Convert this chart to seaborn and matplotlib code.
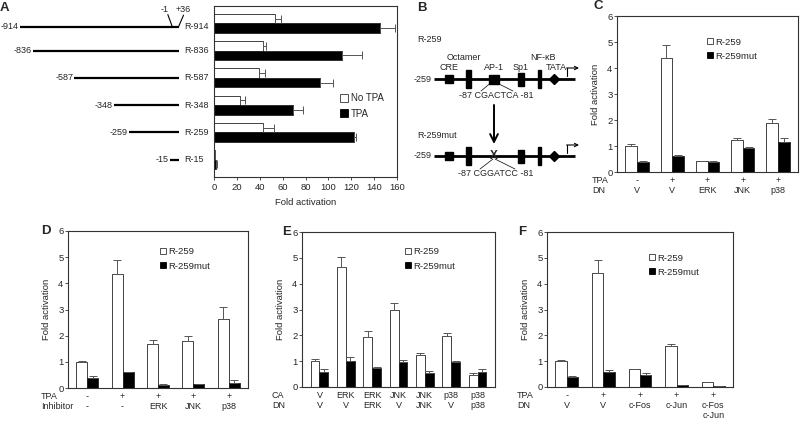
import matplotlib
matplotlib.use('Agg')
import matplotlib.pyplot as plt
import seaborn as sns
import numpy as np
import pandas as pd
from matplotlib.lines import Line2D
from matplotlib.patches import Rectangle

sns.set_style('white')
plt.rcParams['font.family'] = ['Liberation Sans', 'DejaVu Sans']
plt.rcParams['font.size'] = 6.5

FS = 6.5      # words
FN = 6.8      # numeric tick labels

# ---------------- data ----------------
series = ['R-259', 'R-259mut']

# Panel A
a_constructs = ['R-914', 'R-836', 'R-587', 'R-348', 'R-259', 'R-15']
a_starts = [-914, -836, -587, -348, -259, -15]
a_end = 36
a_series = ['No TPA', 'TPA']
a_notpa = [53, 43, 39.5, 23, 43, 0.5]
a_notpa_err = [5.5, 2.5, 5, 4.5, 9.5, 0.3]
a_tpa = [145, 112, 93, 69, 122, 2]
a_tpa_err = [13, 17, 11, 9, 2.5, 0.8]

# Panel C
c_row1 = ['-', '+', '+', '+', '+']
c_row2 = ['V', 'V', 'ERK', 'JNK', 'p38']
c_wt = [1.0, 4.37, 0.42, 1.25, 1.9]
c_wt_err = [0.06, 0.5, 0.02, 0.04, 0.15]
c_mut = [0.38, 0.62, 0.40, 0.94, 1.15]
c_mut_err = [0.06, 0.03, 0.03, 0.03, 0.14]

# Panel D
d_row1 = ['-', '+', '+', '+', '+']
d_row2 = ['-', '-', 'ERK', 'JNK', 'p38']
d_wt = [1.0, 4.35, 1.7, 1.8, 2.65]
d_wt_err = [0.03, 0.53, 0.15, 0.17, 0.43]
d_mut = [0.4, 0.6, 0.12, 0.14, 0.2]
d_mut_err = [0.04, 0.02, 0.05, 0.03, 0.09]

# Panel E
e_row1 = ['V', 'ERK', 'ERK', 'JNK', 'JNK', 'p38', 'p38']
e_row2 = ['V', 'V', 'ERK', 'V', 'JNK', 'V', 'p38']
e_wt = [1.0, 4.65, 1.93, 3.0, 1.25, 1.97, 0.48]
e_wt_err = [0.07, 0.38, 0.23, 0.27, 0.08, 0.12, 0.05]
e_mut = [0.6, 1.02, 0.75, 0.95, 0.56, 0.97, 0.6]
e_mut_err = [0.08, 0.14, 0.02, 0.1, 0.05, 0.02, 0.08]

# Panel F
f_row1 = ['-', '+', '+', '+', '+']
f_row2 = ['V', 'V', 'c-Fos', 'c-Jun', 'c-Fos\nc-Jun']
f_wt = [1.0, 4.4, 0.68, 1.57, 0.18]
f_wt_err = [0.06, 0.5, 0.03, 0.1, 0.03]
f_mut = [0.38, 0.6, 0.47, 0.07, 0.02]
f_mut_err = [0.06, 0.04, 0.06, 0.02, 0.0]

W, H = 800, 428
fig = plt.figure(figsize=(W / 100, H / 100), dpi=100)


def px_axes(l, t, r, b):
    return fig.add_axes([l / W, 1 - b / H, (r - l) / W, (b - t) / H])


SPINE = '#333333'
ECOL = '#555555'


def style_box(ax):
    for s in ax.spines.values():
        s.set_visible(True)
        s.set_color(SPINE)
        s.set_linewidth(0.8)


def grouped(ax, row1, row2, wt, wt_err, mut, mut_err, width, legend_anchor):
    labels = [f'{a}\n{b}' for a, b in zip(row1, row2)]
    n = len(labels)
    df = pd.DataFrame({'group': labels * 2,
                       'construct': [series[0]] * n + [series[1]] * n,
                       'value': wt + mut})
    sns.barplot(data=df, x='group', y='value', hue='construct', order=labels,
                hue_order=series, palette=['white', 'black'], saturation=1,
                edgecolor='#222222', linewidth=0.6, width=width, errorbar=None,
                legend=False, ax=ax)
    bars = [c for c in ax.containers]
    for cont, err in zip(bars, [wt_err, mut_err]):
        xs = [p.get_x() + p.get_width() / 2 for p in cont]
        hs = [p.get_height() for p in cont]
        ax.errorbar(xs, hs, yerr=[np.zeros(len(err)), err], fmt='none',
                    ecolor=ECOL, elinewidth=0.7, capsize=2.8, capthick=0.7)
    ax.set_ylim(0, 6)
    ax.set_yticks(range(7))
    ax.set_xlabel('')
    ax.set_ylabel('Fold activation', fontsize=FS + 0.3, labelpad=5)
    ax.tick_params(axis='y', left=True, length=2.2, width=0.6, color=SPINE,
                   labelsize=FN, pad=1)
    ax.tick_params(axis='x', length=0, labelsize=FS, pad=3)
    for t in ax.get_xticklabels():
        t.set_linespacing(1.15)
    style_box(ax)
    handles = [Line2D([], [], marker='s', ls='', mfc='white', mec='#333333',
                      ms=5, mew=0.6),
               Line2D([], [], marker='s', ls='', mfc='black', mec='black',
                      ms=5, mew=0.6)]
    ax.legend(handles, series, loc='upper left', bbox_to_anchor=legend_anchor,
              frameon=False, handlelength=0.6, handletextpad=0.3,
              labelspacing=0.55, borderpad=0, borderaxespad=0, fontsize=FS + 0.3)


# ---------------- Panel A bars ----------------
axA = px_axes(214, 6, 397, 177)
dfA = pd.DataFrame({'construct': a_constructs * 2,
                    'treat': [a_series[0]] * 6 + [a_series[1]] * 6,
                    'value': a_notpa + a_tpa})
sns.barplot(data=dfA, y='construct', x='value', hue='treat', order=a_constructs,
            hue_order=a_series, orient='h', palette=['white', 'black'],
            saturation=1, edgecolor='#222222', linewidth=0.6, width=0.7,
            errorbar=None, legend=False, ax=axA)
barsA = [c for c in axA.containers]
for cont, err in zip(barsA, [a_notpa_err, a_tpa_err]):
    ys = [p.get_y() + p.get_height() / 2 for p in cont]
    ws = [p.get_width() for p in cont]
    axA.errorbar(ws, ys, xerr=[np.zeros(len(err)), err], fmt='none',
                 ecolor=ECOL, elinewidth=0.7, capsize=2.8, capthick=0.7)
axA.set_xlim(0, 160)
axA.set_xticks(range(0, 161, 20))
axA.set_yticks([])
axA.set_ylabel('')
axA.set_xlabel('Fold activation', fontsize=FS + 0.3, labelpad=4)
axA.tick_params(axis='x', bottom=True, length=2.5, width=0.6, color=SPINE,
                labelsize=FN, pad=2)
style_box(axA)
hA = [Line2D([], [], marker='s', ls='', mfc='white', mec='#333333', ms=6, mew=0.6),
      Line2D([], [], marker='s', ls='', mfc='black', mec='black', ms=6, mew=0.6)]
axA.legend(hA, a_series, loc='upper left', bbox_to_anchor=(0.69, 0.49),
           frameon=False, handlelength=0.7, handletextpad=0.4,
           labelspacing=0.55, borderpad=0, borderaxespad=0, fontsize=FS + 0.5)

# ---------------- Panel A construct diagram ----------------
dax = px_axes(0, 6, 214, 177)
dax.axis('off')
dax.patch.set_alpha(0)
dax.set_xlim(-1033, 248.5)
dax.set_ylim(axA.get_ylim())
for i, (name, st) in enumerate(zip(a_constructs, a_starts)):
    y = i + (0.13 if i == 0 else 0)
    dax.plot([st, a_end], [y, y], color='black', lw=1.6, solid_capstyle='butt')
    dax.text(st - 8, y, str(st), ha='right', va='center', fontsize=FS)
    dax.text(69, y, name, ha='left', va='center', fontsize=FS)
dax.plot([-1, -28], [0.13, -0.32], color='black', lw=0.8, clip_on=False)
dax.plot([a_end, 66], [0.13, -0.3], color='black', lw=0.8, clip_on=False)
dax.text(-50, -0.52, '-1', ha='center', va='center', fontsize=FS, clip_on=False)
dax.text(62, -0.52, '+36', ha='center', va='center', fontsize=FS, clip_on=False)

# ---------------- Panels C-F ----------------
axC = px_axes(617, 16, 798, 172)
grouped(axC, c_row1, c_row2, c_wt, c_wt_err, c_mut, c_mut_err, 0.66, (0.497, 0.862))
axD = px_axes(68, 231, 248, 388)
grouped(axD, d_row1, d_row2, d_wt, d_wt_err, d_mut, d_mut_err, 0.62, (0.511, 0.895))
axE = px_axes(302, 232, 495, 387)
grouped(axE, e_row1, e_row2, e_wt, e_wt_err, e_mut, e_mut_err, 0.66, (0.534, 0.9))
axF = px_axes(547, 232, 733, 387)
grouped(axF, f_row1, f_row2, f_wt, f_wt_err, f_mut, f_mut_err, 0.62, (0.548, 0.861))

# ---------------- overlay: letters, row labels, panel B ----------------
ov = fig.add_axes([0, 0, 1, 1])
ov.set_xlim(0, W)
ov.set_ylim(H, 0)
ov.axis('off')
ov.patch.set_alpha(0)
ov.set_zorder(-1)

for letter, x, y in [('A', 0, 8), ('B', 417, 8), ('C', 593, 6),
                     ('D', 41, 231), ('E', 282, 232), ('F', 518, 232)]:
    ov.text(x, y, letter, ha='left', va='center', fontsize=9.5, fontweight='bold')

for text, x, y in [('TPA\nDN', 592, 176), ('TPA\nInhibitor', 41, 392),
                   ('CA\nDN', 272, 391), ('TPA\nDN', 517, 391)]:
    ov.text(x, y, text, ha='left', va='top', fontsize=FS, linespacing=1.15)

# Panel B diagram
ov.text(417, 39, 'R-259', ha='left', va='center', fontsize=FS)
ov.text(417, 136, 'R-259mut', ha='left', va='center', fontsize=FS)


def promoter(y, mutant):
    ov.plot([434, 575], [y, y], color='black', lw=2.0, solid_capstyle='butt')
    ov.text(432, y, '-259', ha='right', va='center', fontsize=FS)
    ov.add_patch(Rectangle((449 - 4, y - 4), 8, 8, color='black'))
    ov.add_patch(Rectangle((468 - 2.5, y - 9), 5, 18, color='black'))
    if mutant:
        ov.text(494, y, 'X', ha='center', va='center', fontsize=8.5,
                fontweight='bold')
    else:
        ov.add_patch(Rectangle((494 - 5, y - 4.5), 10, 9, color='black'))
    ov.add_patch(Rectangle((521 - 3, y - 6.5), 6, 13, color='black'))
    ov.add_patch(Rectangle((539 - 1.5, y - 9), 3, 18, color='black'))
    ov.plot([554], [y], marker='D', ms=5.5, color='black')
    ov.plot([567, 567], [y - 3, y - 11], color='black', lw=0.8)
    ov.annotate('', xy=(579, y - 11), xytext=(566.6, y - 11),
                arrowprops=dict(arrowstyle='->', lw=0.8, color='black',
                                mutation_scale=6, shrinkA=0, shrinkB=0))


promoter(79, False)
promoter(156, True)
for txt, x, y in [('Octamer', 464, 57), ('NF-\u03baB', 543, 57), ('CRE', 449, 67),
                  ('AP-1', 494, 67), ('Sp1', 521, 67), ('TATA', 556, 67)]:
    ov.text(x, y, txt, ha='center', va='center', fontsize=FS)
ov.text(496, 95, '-87 CGACTCA -81', ha='center', va='center', fontsize=FS)
ov.plot([490, 481], [83.5, 91], color='black', lw=0.5)
ov.plot([498, 513], [83.5, 91], color='black', lw=0.5)
ov.text(496, 173, '-87 CGGATCC -81', ha='center', va='center', fontsize=FS)
ov.plot([493, 480], [159, 169], color='black', lw=0.5)
ov.plot([495, 515], [159, 169], color='black', lw=0.5)
ov.annotate('', xy=(494, 144), xytext=(494, 105),
            arrowprops=dict(arrowstyle='->', lw=1.4, color='black',
                            mutation_scale=14, shrinkA=0, shrinkB=0))

fig.savefig('out.png', dpi=100)
